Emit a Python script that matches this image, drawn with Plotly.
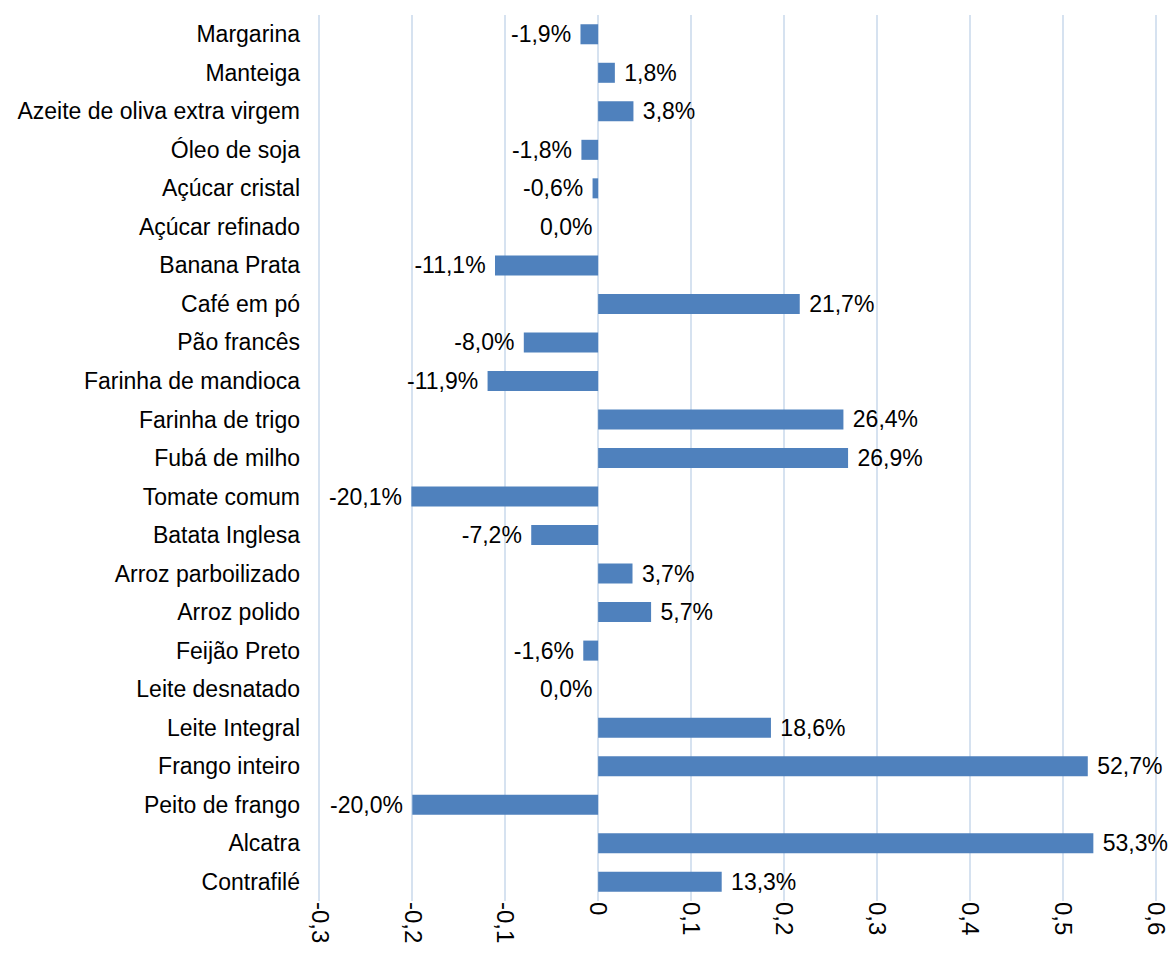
import plotly.graph_objects as go

categories = ["Margarina", "Manteiga", "Azeite de oliva extra virgem", "Óleo de soja",
              "Açúcar cristal", "Açúcar refinado", "Banana Prata", "Café em pó",
              "Pão francês", "Farinha de mandioca", "Farinha de trigo", "Fubá de milho",
              "Tomate comum", "Batata Inglesa", "Arroz parboilizado", "Arroz polido",
              "Feijão Preto", "Leite desnatado", "Leite Integral", "Frango inteiro",
              "Peito de frango", "Alcatra", "Contrafilé"]
values = [-0.019, 0.018, 0.038, -0.018, -0.006, 0.0, -0.111, 0.217, -0.080, -0.119,
          0.264, 0.269, -0.201, -0.072, 0.037, 0.057, -0.016, 0.0, 0.186, 0.527,
          -0.200, 0.533, 0.133]
tick_vals = [-0.3, -0.2, -0.1, 0, 0.1, 0.2, 0.3, 0.4, 0.5, 0.6]
tick_text = ["-0,3", "-0,2", "-0,1", "0", "0,1", "0,2", "0,3", "0,4", "0,5", "0,6"]

def fmt(v):
    s = ("%.1f%%" % (v * 100)).replace(".", ",")
    return s.replace("-0,0%", "0,0%")

labels = [fmt(v) for v in values]
bar_text = []
for v, l in zip(values, labels):
    if v > 0:
        bar_text.append("\u00a0" + l)
    elif v < 0:
        bar_text.append(l + "\u00a0")
    else:
        bar_text.append("")

label_font = dict(family="Liberation Sans, Arial", size=23, color="#000000")

fig = go.Figure(go.Bar(
    y=categories, x=values, orientation="h",
    marker=dict(color="#4F81BD", line=dict(width=0)),
    text=bar_text, textposition="outside", cliponaxis=False, constraintext="none",
    textfont=label_font,
))

annotations = []
for c, v, l in zip(categories, values, labels):
    if v == 0:
        annotations.append(dict(x=v, y=c, xref="x", yref="y", text=l, showarrow=False,
                                xanchor="right", xshift=-4, font=label_font))

fig.update_layout(
    width=1169, height=975,
    margin=dict(l=318, r=12, t=15, b=74),
    plot_bgcolor="white", paper_bgcolor="white",
    bargap=0.48, showlegend=False,
    font=dict(family="Liberation Sans, Arial", size=23, color="#000000"),
    annotations=annotations,
)
fig.update_xaxes(range=[-0.3015, 0.6015], tickvals=tick_vals, ticktext=tick_text, tickangle=90,
                 showgrid=True, gridcolor="#D6E2F0", gridwidth=1.5, zeroline=False,
                 showline=False, ticks="", automargin=False, ticklabelstandoff=0,
                 ticklabeloverflow="allow",
                 tickfont=dict(family="Liberation Sans, Arial", size=24, color="#000000"))
fig.update_yaxes(categoryorder="array", categoryarray=categories, autorange="reversed",
                 showgrid=False, zeroline=False, showline=False, ticks="", ticklabelstandoff=17,
                 automargin=False,
                 tickfont=dict(family="Liberation Sans, Arial", size=23, color="#000000"))

fig.write_html("out.html", config={"displayModeBar": False},
               post_script="document.body.style.margin='0';document.body.style.overflow='hidden';")
